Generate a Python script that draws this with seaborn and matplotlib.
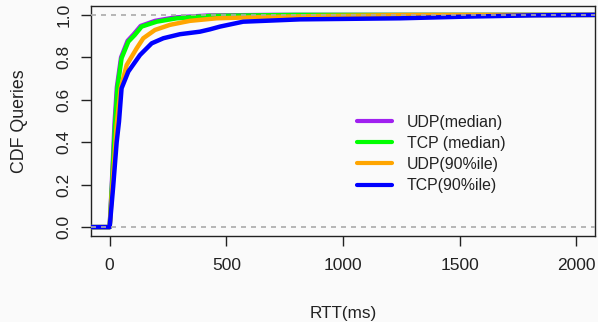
import numpy as np
import pandas as pd
import matplotlib
matplotlib.use("Agg")
import matplotlib.pyplot as plt
import seaborn as sns

# ---- data ----
series_names = ["UDP(median)", "TCP (median)", "UDP(90%ile)", "TCP(90%ile)"]
series_colors = ["#A020F0", "#00FF00", "#FFA500", "#0000FF"]

udp_med_x = [-80, 0, 10, 21, 31, 49, 77, 104, 133, 195, 280, 420, 700, 2080]
udp_med_y = [0, 0, 0.22, 0.49, 0.66, 0.80, 0.878, 0.91, 0.948, 0.972, 0.988, 0.997, 1.0, 1.0]

tcp_med_x = [-80, 0, 10, 23, 33, 51, 80, 108, 137, 201, 287, 430, 800, 2080]
tcp_med_y = [0, 0, 0.2, 0.48, 0.654, 0.796, 0.874, 0.906, 0.945, 0.968, 0.984, 0.995, 1.0, 1.0]

udp90_x = [-80, 0, 12, 30, 47, 73, 116, 144, 194, 258, 344, 458, 650, 900, 1250, 2080]
udp90_y = [0, 0, 0.2, 0.48, 0.654, 0.764, 0.843, 0.89, 0.929, 0.953, 0.972, 0.984, 0.99, 0.995, 0.999, 1.0]

tcp90_x = [-80, 0, 15, 30, 40, 51, 80, 130, 180, 230, 301, 387, 430, 473, 572, 816, 1245, 1530, 1815, 2080]
tcp90_y = [0, 0, 0.19, 0.40, 0.497, 0.654, 0.733, 0.811, 0.866, 0.89, 0.909, 0.921, 0.932, 0.945, 0.968, 0.979, 0.984, 0.992, 0.998, 1.0]

x_ticks = [0, 500, 1000, 1500, 2000]
y_ticks = [0.0, 0.2, 0.4, 0.6, 0.8, 1.0]

frames = []
for name, xs, ys in zip(series_names,
                        [udp_med_x, tcp_med_x, udp90_x, tcp90_x],
                        [udp_med_y, tcp_med_y, udp90_y, tcp90_y]):
    frames.append(pd.DataFrame({"RTT": xs, "CDF": ys, "series": name}))
df = pd.concat(frames, ignore_index=True)

# ---- style ----
sns.set_style("ticks")
plt.rcParams["font.family"] = ["Liberation Sans", "DejaVu Sans"]

ink = "#222222"
bg = "#fafafa"
fig = plt.figure(figsize=(5.98, 3.22), dpi=100, facecolor=bg)
ax = fig.add_axes([91 / 598, 1 - 236 / 322, 504 / 598, 230 / 322])
ax.set_facecolor(bg)

sns.lineplot(data=df, x="RTT", y="CDF", hue="series", hue_order=series_names,
             palette=series_colors, sort=False, estimator=None, units="series",
             lw=3.2, ax=ax, zorder=3)

ax.axhline(0, color="#aaaaaa", lw=1.2, ls=(0, (3, 3)), zorder=4)
ax.axhline(1, color="#aaaaaa", lw=1.2, ls=(0, (3, 3)), zorder=4)

ax.set_xlim(-80, 2080)
ax.set_ylim(-0.042, 1.042)
ax.set_xticks(x_ticks)
ax.set_xticklabels([str(v) for v in x_ticks])
ax.set_yticks(y_ticks)
ax.set_yticklabels([f"{v:.1f}" for v in y_ticks], rotation=90, va="center")

for s in ax.spines.values():
    s.set_visible(True)
    s.set_linewidth(1.0)
    s.set_color(ink)

ax.tick_params(axis="both", direction="out", length=7, width=1.0,
               labelsize=12.5, colors=ink)
ax.tick_params(axis="x", pad=9)
ax.tick_params(axis="y", pad=7)

ax.set_xlabel("RTT(ms)", fontsize=12.3, color=ink)
ax.set_ylabel("CDF Queries", fontsize=12.8, color=ink)
ax.xaxis.set_label_coords(0.5, -0.335)
ax.xaxis.label.set_va("center")
ax.yaxis.set_label_coords(-0.142, 0.5)
ax.yaxis.label.set_va("center")

handles, labels = ax.get_legend_handles_labels()
leg = ax.legend(handles, labels, loc="upper left",
                bbox_to_anchor=((357 - 91) / 504, (236 - 115) / 230),
                frameon=False, fontsize=11.4, handlelength=2.2,
                handletextpad=0.95, labelspacing=0.38, borderpad=0,
                borderaxespad=0)
for t in leg.get_texts():
    t.set_color(ink)
for h in leg.get_lines():
    h.set_linewidth(3.0)

fig.savefig("out.png", dpi=100, facecolor=bg)
